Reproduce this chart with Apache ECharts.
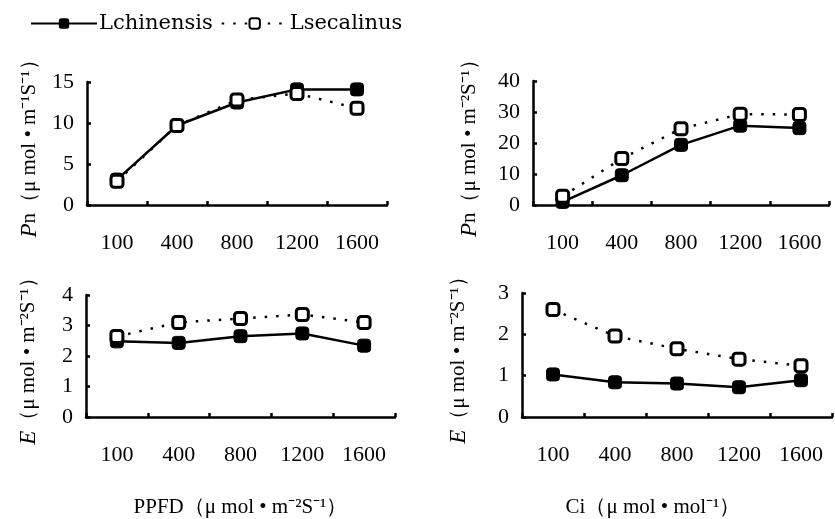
<!DOCTYPE html>
<html><head><meta charset="utf-8">
<script src="https://cdn.jsdelivr.net/npm/echarts@6/dist/echarts.min.js"></script>
<style>html,body{margin:0;padding:0;background:#fff}#c{width:835px;height:519px}</style>
</head><body><div id="c"></div>
<script>
var categories = ['100', '400', '800', '1200', '1600'];
// Panel A: Pn vs PPFD
var pnPPFD_Lch = [3.1, 9.7, 12.5, 14.1, 14.1];
var pnPPFD_Lse = [2.9, 9.7, 12.8, 13.6, 11.8];
// Panel B: Pn vs Ci
var pnCi_Lch = [1.0, 9.6, 19.4, 25.6, 24.8];
var pnCi_Lse = [2.8, 15.0, 24.6, 29.3, 29.2];
// Panel C: E vs PPFD
var ePPFD_Lch = [2.48, 2.43, 2.65, 2.74, 2.34];
var ePPFD_Lse = [2.64, 3.10, 3.23, 3.36, 3.10];
// Panel D: E vs Ci
var eCi_Lch = [1.03, 0.84, 0.81, 0.72, 0.89];
var eCi_Lse = [2.60, 1.96, 1.65, 1.40, 1.24];
var yMax = [15, 40, 4, 3];
var yInterval = [5, 10, 1, 1];

var FONT = 'Liberation Serif';
var txt = {fontFamily: FONT, fontSize: 22, color: '#000'};
var grids = [
  {left: 87, top: 82, width: 300, height: 123},
  {left: 533, top: 81, width: 296, height: 124},
  {left: 86, top: 295, width: 309, height: 128},
  {left: 522, top: 293, width: 310, height: 130}
];
var yNames = [
  '{i|P}{t|n（μ mol • m⁻¹S⁻¹）}',
  '{i|P}{t|n（μ mol • m⁻²S⁻¹）}',
  '{i|E}{t|（μ mol • m⁻²S⁻¹）}',
  '{i|E}{t|（μ mol • m⁻²S⁻¹）}'
];
var xNames = ['', '', 'PPFD（μ mol • m⁻²S⁻¹）', 'Ci（μ mol • mol⁻¹）'];
var axLine = {show: true, lineStyle: {color: '#000', width: 2.5}};
var xAxes = [], yAxes = [], series = [];
var dataLch = [pnPPFD_Lch, pnCi_Lch, ePPFD_Lch, eCi_Lch];
var dataLse = [pnPPFD_Lse, pnCi_Lse, ePPFD_Lse, eCi_Lse];
for (var i = 0; i < 4; i++) {
  xAxes.push({
    type: 'category', gridIndex: i, data: categories, boundaryGap: true,
    axisLine: axLine,
    axisTick: {show: true, inside: true, length: 4, lineStyle: {color: '#000', width: 2.5}},
    axisLabel: Object.assign({margin: 27}, txt),
    name: xNames[i], nameLocation: 'middle', nameGap: 80,
    nameTextStyle: {fontFamily: FONT, fontSize: 21, color: '#000', padding: i === 3 ? [0, 48, 0, 0] : 0}
  });
  yAxes.push({
    type: 'value', gridIndex: i, min: 0, max: yMax[i], interval: yInterval[i],
    splitLine: {show: false},
    axisLine: axLine,
    axisTick: {show: true, inside: true, length: 4, lineStyle: {color: '#000', width: 2.5}},
    axisLabel: Object.assign({margin: 13}, txt),
    name: yNames[i], nameLocation: 'middle', nameRotate: 90, nameGap: i % 2 === 0 ? 46 : 52,
    nameTextStyle: {
      rich: {
        i: {fontFamily: FONT, fontStyle: 'italic', fontSize: 23, color: '#000'},
        t: {fontFamily: FONT, fontSize: 21, color: '#000'}
      }
    }
  });
  series.push({
    name: 'Lchinensis', type: 'line', xAxisIndex: i, yAxisIndex: i, data: dataLch[i],
    symbol: 'roundRect', symbolSize: 13,
    itemStyle: {color: '#000', borderColor: '#000'},
    lineStyle: {color: '#000', width: 2.5}, z: 2
  });
  series.push({
    name: 'Lsecalinus', type: 'line', xAxisIndex: i, yAxisIndex: i, data: dataLse[i],
    symbol: 'roundRect', symbolSize: 12,
    itemStyle: {color: '#fff', borderColor: '#000', borderWidth: 3},
    lineStyle: {color: '#000', width: 2.5, type: [2.5, 9]}, z: 3
  });
}
var chart = echarts.init(document.getElementById('c'));
chart.setOption({
  animation: false,
  backgroundColor: '#fff',
  legend: {
    data: ['Lchinensis', 'Lsecalinus'], left: 25, top: 8, itemWidth: 66, itemHeight: 13, itemGap: 8,
    textStyle: {fontFamily: 'DejaVu Serif', fontSize: 21, color: '#000', padding: [0, 0, 0, -3]}
  },
  grid: grids,
  xAxis: xAxes,
  yAxis: yAxes,
  series: series
});
</script></body></html>
